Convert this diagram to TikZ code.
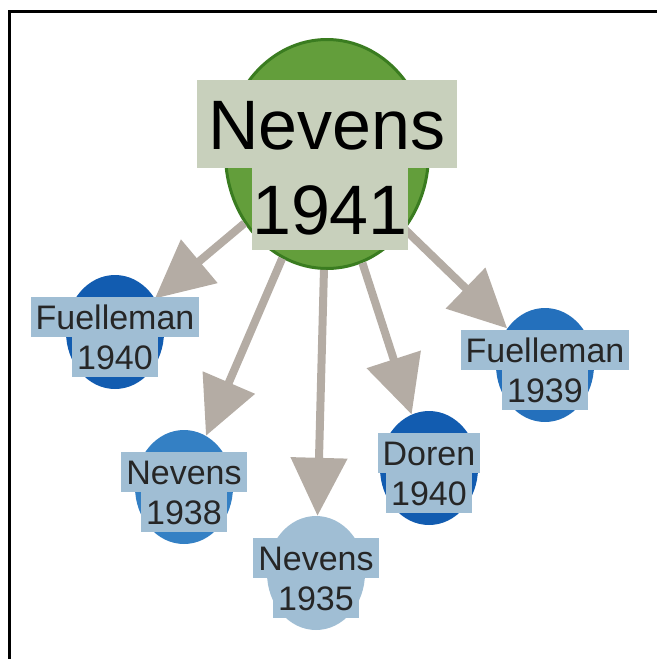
\documentclass[tikz,border=0pt]{standalone}
\usepackage{fontspec}
\setmainfont{Liberation Sans}
\usetikzlibrary{arrows.meta,shapes.geometric}
\definecolor{rootgreen}{RGB}{99,158,59}
\definecolor{rootedge}{RGB}{58,124,32}
\definecolor{rootlabel}{RGB}{200,208,188}
\definecolor{kidlabel}{RGB}{160,190,212}
\definecolor{kiddark}{RGB}{18,92,176}
\definecolor{kidmid}{RGB}{36,112,188}
\definecolor{kidsoft}{RGB}{52,128,196}
\definecolor{linkgrey}{RGB}{180,172,164}
\tikzset{
  kid/.style = {ellipse, minimum width = 98pt, minimum height = 114pt, inner sep = 0pt},
  kidtag/.style = {fill = kidlabel, text = black!85, inner xsep = 5pt, inner ysep = 0pt,
    minimum height = 40pt, text height = 25pt, text depth = 0pt,
    font = \fontsize{34}{40}\selectfont},
  roottag/.style = {fill = rootlabel, inner sep = 0pt, text height = 50pt, text depth = 0pt,
    font = \fontsize{70}{80}\selectfont},
  link/.style = {draw = linkgrey, line width = 8pt, -{Triangle[length = 58pt, width = 55pt]}}
}
\begin{document}
\begin{tikzpicture}[x = 1pt, y = -1pt]
\useasboundingbox (0,0) rectangle (657,659);
\draw[line width = 3pt] (9.5,659) -- (9.5,11) -- (657,11);
\node[ellipse, fill = rootgreen, draw = rootedge, line width = 3pt,
  minimum width = 203pt, minimum height = 229pt] (root) at (327,154) {};
\foreach \nm/\x/\y/\col/\who/\yr in {f40/115/332/kiddark/Fuelleman/1940,
    n38/184/487/kidsoft/Nevens/1938, n35/316/573/kidlabel/Nevens/1935,
    d40/429/468/kiddark/Doren/1940, f39/545/365/kidmid/Fuelleman/1939}{
  \node[kid, fill = \col] (\nm) at (\x,\y) {};
  \draw[link] (root) -- (\nm);
  \node[kidtag] (\nm-n) at (\x,\y-15) {\who};
  \node[kidtag] (\nm-y) at (\x,\y+25) {\yr};
}
\node[roottag, minimum width = 260pt, minimum height = 88pt] (root-n) at (327,124) {Nevens};
\node[roottag, minimum width = 155pt, minimum height = 82pt] (root-y) at (330,209) {1941};
\end{tikzpicture}
\end{document}
